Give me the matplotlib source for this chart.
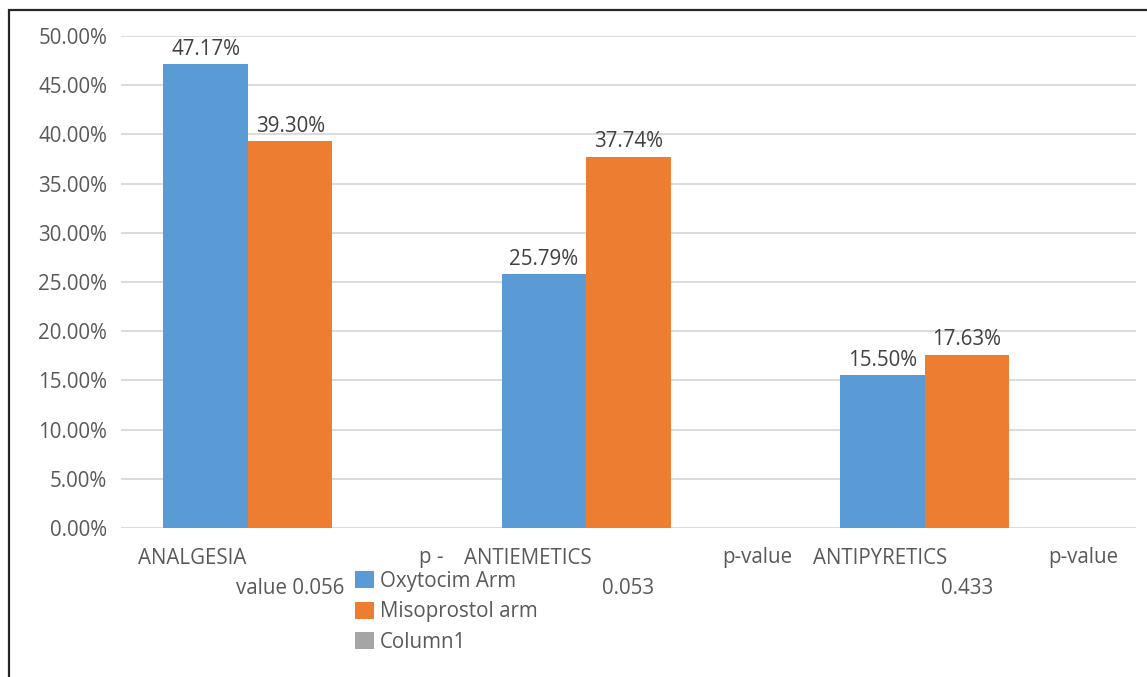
import matplotlib
matplotlib.use("Agg")
import matplotlib.pyplot as plt
from matplotlib.patches import Rectangle, Patch
from matplotlib.ticker import FuncFormatter
import numpy as np

# ---------------------------------------------------------------------------
# data
# ---------------------------------------------------------------------------
categories = ["ANALGESIA", "ANTIEMETICS", "ANTIPYRETICS"]
p_head = ["p -", "p-value", "p-value"]
p_tail = ["value 0.056", "0.053", "0.433"]
series_names = ["Oxytocim Arm", "Misoprostol arm", "Column1"]
oxytocin = [0.4717, 0.2579, 0.1550]
misoprostol = [0.3930, 0.3774, 0.1763]
column1 = [0.0, 0.0, 0.0]

colors = ["#5B9BD5", "#ED7D31", "#A5A5A5"]
plt.rcParams["font.family"] = ["Open Sans", "DejaVu Sans"]
FS = 14.8
W, H = 1147, 677

fig = plt.figure(figsize=(W / 100, H / 100), dpi=100)
ax = fig.add_axes([121 / W, 1 - 528 / H, (1136 - 121) / W, (528 - 36) / H])

x = np.arange(len(categories))
bw = 0.25
all_series = [oxytocin, misoprostol, column1]
for i, (vals, col) in enumerate(zip(all_series, colors)):
    bars = ax.bar(x + (i - 1) * bw, vals, bw, color=col, zorder=3)
    if i < 2:
        for b, v in zip(bars, vals):
            ax.annotate(f"{v*100:.2f}%", (b.get_x() + b.get_width() / 2, v),
                        xytext=(0, 3), textcoords="offset points",
                        ha="center", va="bottom", fontsize=FS, color="#404040")

ax.set_xlim(-0.5, len(categories) - 0.5)
ax.set_ylim(0, 0.5)
ax.set_yticks(np.arange(0, 0.501, 0.05))
ax.yaxis.set_major_formatter(FuncFormatter(lambda v, _: f"{v*100:.2f}%"))
ax.tick_params(axis="y", length=0, pad=10, labelsize=FS, labelcolor="#595959")
ax.set_xticks([])
ax.grid(axis="y", color="#d9d9d9", linewidth=1.3, zorder=0)
for s in ax.spines.values():
    s.set_visible(False)

# category labels, wrapped like the original
left_off = [-152, -165, -154]
right_off = [153, 164, 152]
px = 0.72
for i in range(len(categories)):
    ax.annotate(categories[i], (x[i], 0), xytext=(left_off[i] * px, -30 * px),
                textcoords="offset points", ha="left", va="center",
                fontsize=FS, color="#595959")
    ax.annotate(p_head[i], (x[i], 0), xytext=(right_off[i] * px, -30 * px),
                textcoords="offset points", ha="right", va="center",
                fontsize=FS, color="#595959")
    ax.annotate(p_tail[i], (x[i], 0), xytext=(0, -60 * px),
                textcoords="offset points", ha="center", va="center",
                fontsize=FS, color="#595959")

handles = [Patch(facecolor=c, edgecolor="none") for c in colors]
fig.legend(handles, series_names, loc="upper left",
           bbox_to_anchor=(355 / W, 1 - 571 / H), frameon=False,
           fontsize=FS, labelcolor="#595959", borderpad=0, borderaxespad=0,
           handlelength=0.9, handleheight=0.9, handletextpad=0.3,
           labelspacing=0.45)

# chart border
fig.patches.append(Rectangle((9 / W, -0.05), 1.2, 1 - 10 / H + 0.05,
                             transform=fig.transFigure, fill=False,
                             edgecolor="#262626", linewidth=1.6))

fig.savefig("out.png", dpi=100)
